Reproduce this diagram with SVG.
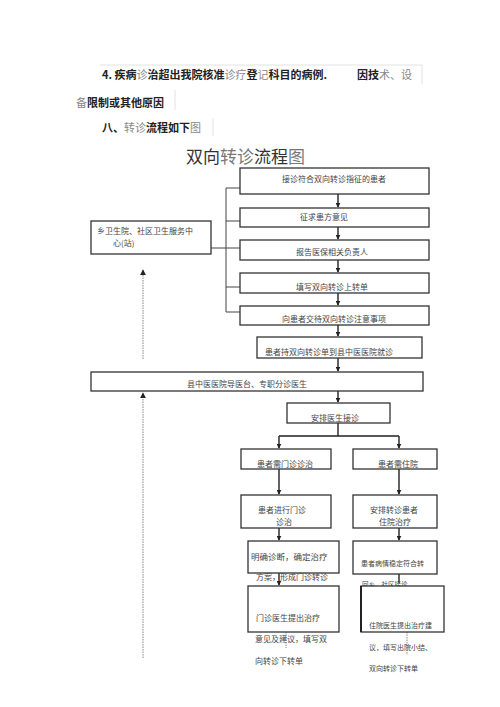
<svg xmlns="http://www.w3.org/2000/svg" width="500" height="707" viewBox="0 0 500 707">
<defs>
<marker id="ah" viewBox="0 0 8 8" refX="7" refY="4" markerWidth="5" markerHeight="5" orient="auto" markerUnits="userSpaceOnUse">
<path d="M0,0 L8,4 L0,8 z" fill="#222"/>
</marker>
<marker id="ahd" viewBox="0 0 8 8" refX="7" refY="4" markerWidth="6" markerHeight="6" orient="auto" markerUnits="userSpaceOnUse">
<path d="M0,0 L8,4 L0,8 z" fill="#222"/>
</marker>
</defs>
<style>
text{font-family:"Noto Sans CJK SC","Liberation Sans",sans-serif;}
.hd{font-size:11px;font-weight:bold;fill:#222;}
.lt{font-weight:normal;fill:#888;}
.ttl{font-size:17px;fill:#333;}
.bx{fill:#fff;stroke:#333;stroke-width:1.3;}
.t{font-size:8px;fill:#444;}
.ts{font-size:7px;fill:#444;}
.ln{fill:none;stroke:#444;stroke-width:1;}
.ar{fill:none;stroke:#222;stroke-width:1.4;}
.dt{fill:none;stroke:#888;stroke-width:1;stroke-dasharray:1.5 1;}
.fnt{fill:none;stroke:#e2e2e2;stroke-width:1;}
</style>
<rect width="500" height="707" fill="#fff"/>
<g id="intro">
<path class="fnt" d="M100,65 H422 V84 M175,90 V110 M213,118 V136"/>
<text class="hd" x="102" y="79">4. 疾病<tspan class="lt">诊</tspan>治超出我院核准<tspan class="lt">诊疗</tspan>登<tspan class="lt">记</tspan>科目的病例.</text>
<text class="hd" x="357" y="79">因技<tspan class="lt">术、设</tspan></text>
<text class="hd" x="76" y="107"><tspan class="lt">备</tspan>限制或其他原因</text>
<text class="hd" x="102" y="132">八、<tspan class="lt">转诊</tspan>流程如下<tspan class="lt">图</tspan></text>
<text class="ttl" x="186" y="163">双向<tspan fill="#777">转诊</tspan>流程<tspan fill="#777">图</tspan></text>
</g>
<g id="connectors">
<path class="ln" d="M226,188 V312 M226,188 H240 M226,221 H240 M211,248 H240 M226,287 H240 M226,312 H240"/>
<path class="ar" d="M338,194 V207" marker-end="url(#ah)"/>
<path class="ar" d="M338,227 V239" marker-end="url(#ah)"/>
<path class="ar" d="M338,260 V272" marker-end="url(#ah)"/>
<path class="ar" d="M338,293 V305" marker-end="url(#ah)"/>
<path class="ar" d="M338,325 V336" marker-end="url(#ah)"/>
<path class="ar" d="M338,358 V371" marker-end="url(#ah)"/>
<path class="ar" d="M338,391 V402" marker-end="url(#ah)"/>
<path class="ar" d="M338,423 V436 M279,436 H399"/>
<path class="ar" d="M279,436 V448" marker-end="url(#ah)"/>
<path class="ar" d="M399,436 V448" marker-end="url(#ah)"/>
<path class="ar" d="M279,469 V494" marker-end="url(#ah)"/>
<path class="ar" d="M399,469 V494" marker-end="url(#ah)"/>
<path class="ar" d="M279,528 V540" marker-end="url(#ah)"/>
<path class="ar" d="M399,528 V540" marker-end="url(#ah)"/>
<path class="ar" d="M279,573 V585" marker-end="url(#ah)"/>
<path class="ar" d="M399,574 V583"/>
<path class="dt" d="M143,359 V270" marker-end="url(#ahd)"/>
<path class="dt" d="M143,658 V393" marker-end="url(#ahd)"/>
<path class="dt" d="M286,632 V648"/>
<path class="dt" d="M407,632 V655"/>
</g>
<g id="n1"><rect class="bx" x="240" y="168" width="189" height="26"/><text class="t" x="334" y="182" text-anchor="middle">接诊符合双向转诊指征的患者</text></g>
<g id="n2"><rect class="bx" x="240" y="208" width="189" height="19"/><text class="t" x="324" y="220" text-anchor="middle">征求患方意见</text></g>
<g id="n3"><rect class="bx" x="240" y="240" width="189" height="20"/><text class="t" x="332" y="255" text-anchor="middle">报告医保相关负责人</text></g>
<g id="n4"><rect class="bx" x="240" y="273" width="189" height="20"/><text class="t" x="332" y="290" text-anchor="middle">填写双向转诊上转单</text></g>
<g id="n5"><rect class="bx" x="240" y="306" width="189" height="19"/><text class="t" x="334" y="322" text-anchor="middle">向患者交待双向转诊注意事项</text></g>
<g id="nL"><rect class="bx" x="91" y="221" width="120" height="33"/><text class="t" x="97" y="234">乡卫生院、社区卫生服务中</text><text class="t" x="113" y="246">心(站)</text></g>
<g id="n6"><rect class="bx" x="257" y="337" width="165" height="21"/><text class="t" x="265" y="355">患者持双向转诊单到县中医医院就诊</text></g>
<g id="n7"><rect class="bx" x="91" y="372" width="332" height="19"/><text class="t" x="247" y="387" text-anchor="middle">县中医医院导医台、专职分诊医生</text></g>
<g id="n8"><rect class="bx" x="287" y="403" width="103" height="20"/><text class="t" x="335" y="421" text-anchor="middle">安排医生接诊</text></g>
<g id="n9"><rect class="bx" x="241" y="449" width="90" height="20"/><text class="t" x="285" y="467" text-anchor="middle">患者需门诊诊治</text></g>
<g id="n10"><rect class="bx" x="353" y="449" width="84" height="20"/><text class="t" x="398" y="467" text-anchor="middle">患者需住院</text></g>
<g id="n11"><rect class="bx" x="241" y="495" width="90" height="33"/><text class="t" x="258" y="513">患者进行门诊</text><text class="t" x="276" y="525">诊治</text></g>
<g id="n12"><rect class="bx" x="353" y="495" width="84" height="33"/><text class="t" x="370" y="513">安排转诊患者</text><text class="t" x="379" y="525">住院治疗</text></g>
<g id="n13"><rect class="bx" x="248" y="541" width="91" height="32"/><text class="t" x="251" y="560" style="font-size:8.5px">明确诊断，确定治疗</text><text class="t" x="256" y="580">方案，形成门诊转诊</text></g>
<g id="n14"><rect class="bx" x="353" y="541" width="84" height="33"/><text class="ts" x="361" y="566">患者病情稳定符合转</text><text class="ts" x="362" y="587" style="font-size:6.5px">回乡、社区接诊</text></g>
<g id="n15"><rect class="bx" x="248" y="586" width="91" height="46"/><text class="t" x="256" y="621">门诊医生提出治疗</text><text class="t" x="255" y="642">意见及建议，填写双</text><text class="t" x="255" y="664">向转诊下转单</text></g>
<g id="n16"><rect class="bx" x="361" y="586" width="83" height="46"/><path d="M361,586 V632" stroke="#222" stroke-width="2"/><text class="ts" x="369" y="628">住院医生提出治疗建</text><text class="ts" x="369" y="650">议，填写出院小结、</text><text class="ts" x="369" y="671">双向转诊下转单</text></g>
</svg>
